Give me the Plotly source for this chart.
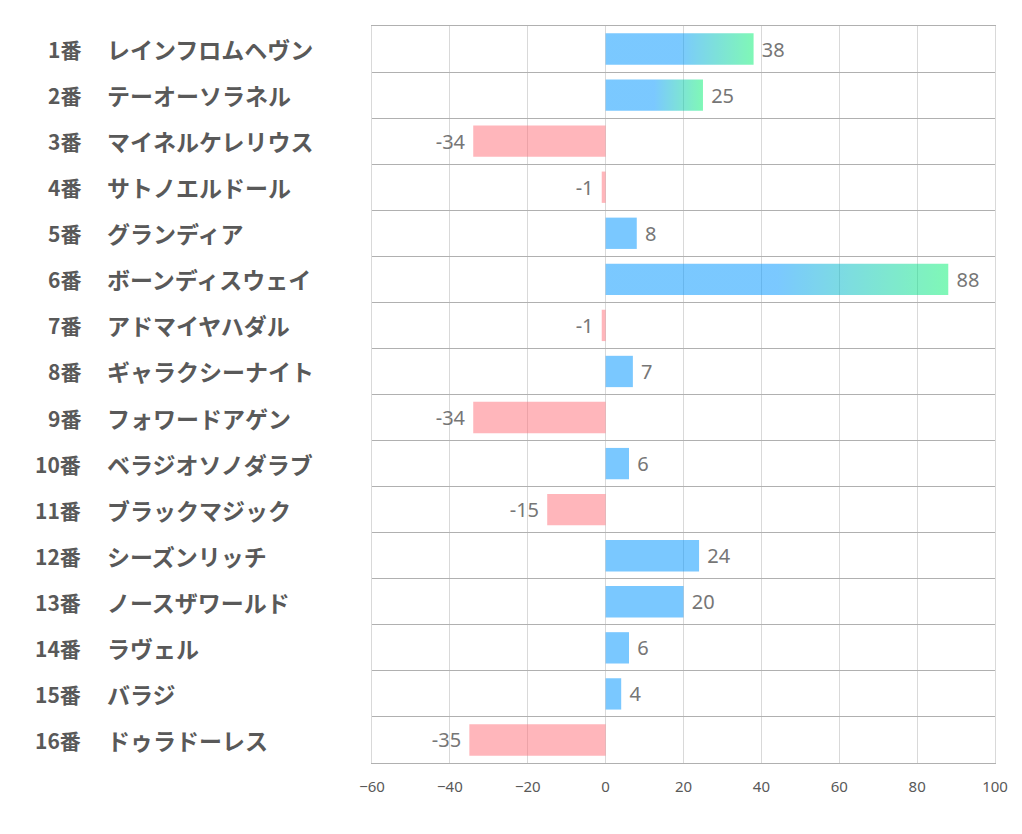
import plotly.graph_objs as go

numbers = ["1番", "2番", "3番", "4番", "5番", "6番", "7番", "8番",
           "9番", "10番", "11番", "12番", "13番", "14番", "15番", "16番"]
horses = ["レインフロムヘヴン", "テーオーソラネル", "マイネルケレリウス", "サトノエルドール",
          "グランディア", "ボーンディスウェイ", "アドマイヤハダル", "ギャラクシーナイト",
          "フォワードアゲン", "ベラジオソノダラブ", "ブラックマジック", "シーズンリッチ",
          "ノースザワールド", "ラヴェル", "バラジ", "ドゥラドーレス"]
values = [38, 25, -34, -1, 8, 88, -1, 7, -34, 6, -15, 24, 20, 6, 4, -35]
x_ticks = [-60, -40, -20, 0, 20, 40, 60, 80, 100]

BLUE = "rgba(0,150,255,0.52)"
GREEN = "rgba(0,240,110,0.5)"
PINK = "rgba(255,110,120,0.5)"
BAR_W = 0.68

pos = list(range(len(values)))
top3 = sorted(pos, key=lambda i: values[i], reverse=True)[:3]

colors = []
labels = []
for i, v in enumerate(values):
    if i in top3:
        colors.append("rgba(0,0,0,0)")
    elif v >= 0:
        colors.append(BLUE)
    else:
        colors.append(PINK)
    # a space keeps the label a little away from the bar end
    labels.append(" " + str(v) if v >= 0 else str(v) + " ")

data = []
data.append(go.Bar(
    x=values, y=pos, orientation="h", width=BAR_W,
    marker=dict(color=colors, line=dict(width=0)),
    text=labels, textposition="outside",
    textfont=dict(family="Noto Sans", size=20, color="#767676"),
    cliponaxis=False, showlegend=False,
))

# gradient bars for the top 3
for i in top3:
    v = values[i]
    h = BAR_W / 2
    data.append(go.Scatter(
        x=[0, v, v, 0, 0], y=[i - h, i - h, i + h, i + h, i - h],
        mode="lines", line=dict(width=0), fill="toself",
        fillgradient=dict(type="horizontal",
                          colorscale=[[0, BLUE], [0.5, BLUE], [1, GREEN]]),
        showlegend=False, hoverinfo="skip",
    ))

lay = go.Layout(
    width=1014, height=826,
    margin=dict(l=364, r=27, t=18, b=71),
    plot_bgcolor="white", paper_bgcolor="white",
    xaxis=dict(range=[-60, 100], tickvals=x_ticks, showgrid=True,
               gridcolor="#d9d9d9", gridwidth=1, zeroline=False,
               tickfont=dict(family="Noto Sans", size=15, color="#595959"),
               ticks="outside", ticklen=10, tickcolor="rgba(0,0,0,0)",
               showline=True, mirror=True, linecolor="#b0b0b0", linewidth=1),
    yaxis=dict(range=[len(values) - 0.5, -0.5],
               tickvals=[i - 0.5 for i in range(len(values) + 1)],
               showticklabels=False, showgrid=True, gridcolor="#b0b0b0",
               gridwidth=1, zeroline=False, ticks="",
               showline=True, mirror=True, linecolor="#d9d9d9", linewidth=1),
    bargap=0.3,
)
fig = go.Figure(data=data, layout=lay)

for i in pos:
    fig.add_annotation(x=0, xref="paper", y=i, yref="y", text=numbers[i],
                       xanchor="right", xshift=-289, showarrow=False,
                       font=dict(family="Noto Sans CJK JP", size=21, color="#595959",
                                 weight="bold"))
    fig.add_annotation(x=0, xref="paper", y=i, yref="y", text=horses[i],
                       xanchor="left", xshift=-267, showarrow=False,
                       font=dict(family="Noto Sans CJK JP", size=23, color="#595959",
                                 weight="bold"))

fig.write_html("out.html")
